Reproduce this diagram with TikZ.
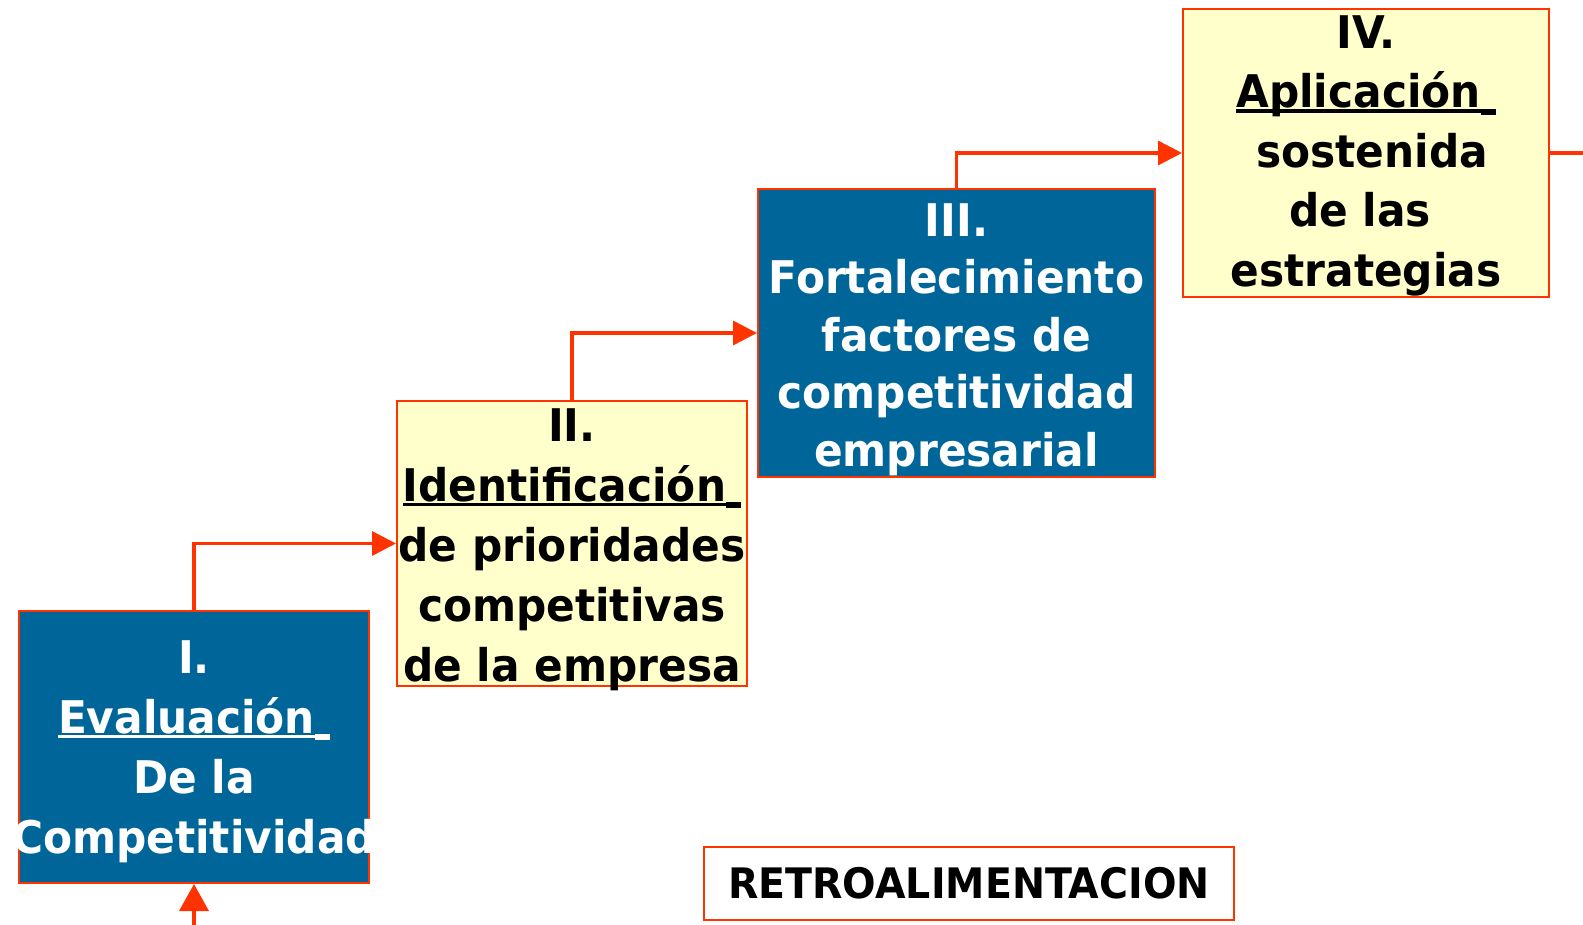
\documentclass[tikz,border=0pt]{standalone}
\usepackage{fontspec}
\setmainfont{DejaVu Sans}[FakeStretch=0.94]
\usetikzlibrary{arrows.meta}
\definecolor{fred}{HTML}{FF3300}
\definecolor{fblue}{HTML}{006699}
\definecolor{fyellow}{HTML}{FFFFCC}
\newcommand\ulin[1]{\setbox0\hbox{#1}\rlap{\rule[-5pt]{\wd0}{3.5pt}}\box0\rule[-7pt]{15pt}{6pt}}
\begin{document}
\begin{tikzpicture}[x=1pt,y=-1pt,
  box/.style={draw=fred,line width=2pt,inner sep=0pt},
  bluebox/.style={box,fill=fblue},
  yellowbox/.style={box,fill=fyellow},
  txt/.style={anchor=north,inner sep=0pt,align=center},
  conn/.style={draw=fred,line width=3.5pt,-{Triangle[length=24pt,width=24pt]}},
  plainline/.style={draw=fred,line width=3.5pt}]
\useasboundingbox (0,0) rectangle (1583,925);
% boxes
\node[bluebox,minimum width=350pt,minimum height=272pt] (b1) at (194,747) {};
\node[yellowbox,minimum width=350pt,minimum height=285pt] (b2) at (572,543.5) {};
\node[bluebox,minimum width=397pt,minimum height=288pt] (b3) at (956.5,333) {};
\node[yellowbox,minimum width=366pt,minimum height=288pt] (b4) at (1366,153) {};
\node[box,minimum width=530pt,minimum height=73pt,font=\bfseries\fontsize{42}{50}\selectfont] (retro) at (969,883.5) {RETROALIMENTACION};
% connectors
\draw[conn] (b1.north) |- (b2.west);
\draw[conn] (b2.north) |- (b3.west);
\draw[conn] (b3.north) |- (b4.west);
\coordinate (outR) at (1583,153);
\draw[plainline] (b4.east) -- (outR);
\coordinate (inB) at (194,925);
\draw[plainline,-{Triangle[length=27pt,width=29pt]}] (inB) -- (b1.south);
% texts
\node[txt,text=white,font=\bfseries\fontsize{45}{60}\selectfont] (t1) at (194,640)
  {I.\\\ulin{Evaluación}\\De la\\Competitividad};
\node[txt,font=\bfseries\fontsize{45}{60}\selectfont] (t2) at (572,408)
  {II.\\\ulin{Identificación}\\de prioridades\\competitivas\\de la empresa};
\node[txt,text=white,font=\bfseries\fontsize{45}{57.5}\selectfont] (t3) at (956.5,203)
  {III.\\Fortalecimiento\\factores de\\competitividad\\empresarial};
\node[txt,font=\bfseries\fontsize{45}{59.5}\selectfont] (t4) at (1366,15)
  {IV.\\\ulin{Aplicación}\\\kern12pt sostenida\\de las\kern12pt\\estrategias};
\end{tikzpicture}
\end{document}
